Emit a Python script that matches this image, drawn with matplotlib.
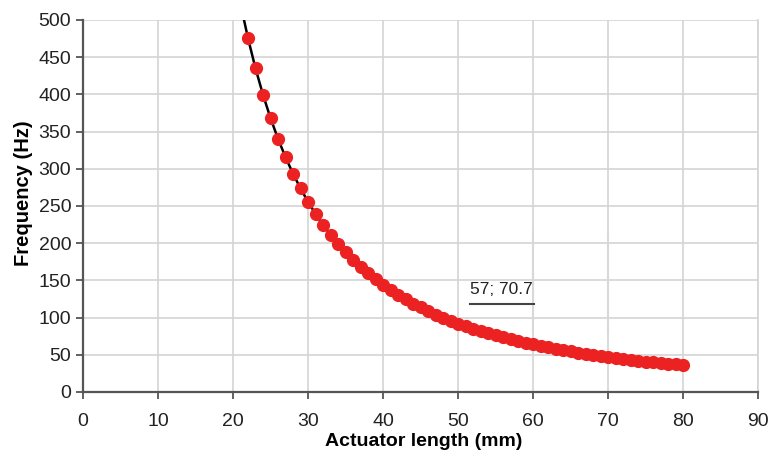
import matplotlib
matplotlib.use("Agg")
import matplotlib.pyplot as plt

plt.rcParams['font.family'] = ['Liberation Sans', 'DejaVu Sans']

# measured points (actuator length mm, frequency Hz)
length = list(range(22, 81))
freq = [475.2, 434.8, 399.3, 368.0, 340.2, 315.5, 293.4, 273.5, 255.6, 239.3,
        224.6, 211.2, 199.0, 187.8, 177.5, 168.0, 159.3, 151.2, 143.8, 136.8,
        130.4, 124.4, 118.8, 113.6, 108.7, 104.1, 99.8, 95.8, 92.0, 88.4,
        85.1, 81.9, 78.9, 76.0, 73.3, 70.8, 68.4, 66.1, 63.9, 61.8,
        59.8, 57.9, 56.2, 54.4, 52.8, 51.2, 49.7, 48.3, 46.9, 45.6,
        44.4, 43.2, 42.0, 40.9, 39.8, 38.8, 37.8, 36.9, 35.9]

# fitted curve (extends past the top)
fit_x = [21.0] + length
fit_y = [521.5] + freq

fig = plt.figure(figsize=(7.71, 4.5), dpi=100)
ax = fig.add_axes([0.1077, 0.129, 0.8755, 0.8266])

ax.plot(fit_x, fit_y, color="black", lw=1.8, zorder=3)
ax.plot(length, freq, "o", color="#ec2222", ms=8.5, mec="#ec2222", zorder=4)

# faint marks in the original
ax.plot([60, 60], [80, 215], color="#d8d8d8", lw=1.5, zorder=2)
ax.plot([70, 70], [80, 212], color="#d8d8d8", lw=1.5, zorder=2)

ax.text(51.6, 131, "57; 70.7", fontsize=12.5, color="#222222", zorder=5)
ax.plot([51.6, 60.1], [118, 118], color="#444444", lw=1.5, zorder=5)

ax.set_xlim(0, 90)
ax.set_ylim(0, 500)
ax.set_xticks(range(0, 91, 10))
ax.set_yticks(range(0, 501, 50))
ax.grid(True, color="#d4d4d4", lw=1.2)
ax.set_axisbelow(True)

for s in ["left", "bottom"]:
    ax.spines[s].set_color("#555555")
    ax.spines[s].set_linewidth(1.6)
for s in ["right", "top"]:
    ax.spines[s].set_color("#d4d4d4")
    ax.spines[s].set_linewidth(1.2)
ax.spines["top"].set_visible(False)

ax.tick_params(axis="both", labelsize=14, color="#555555", length=5, width=1.3,
               labelcolor="#222222", direction="out")
ax.tick_params(axis="x", pad=10)
ax.set_xlabel("Actuator length (mm)", fontsize=14, fontweight="bold")
ax.set_ylabel("Frequency (Hz)", fontsize=14.5, fontweight="bold")
ax.xaxis.set_label_coords(0.504, -0.111)
ax.yaxis.set_label_coords(-0.074, 0.535)

fig.savefig("out.png", dpi=100)
